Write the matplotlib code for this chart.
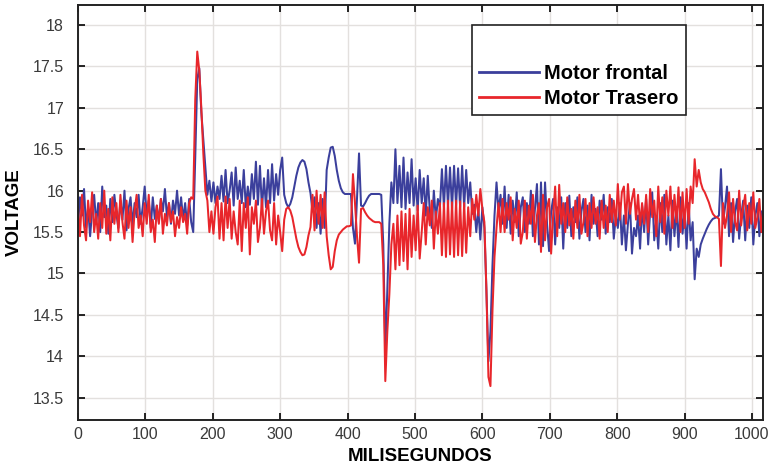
import matplotlib

matplotlib.use("Agg")

import matplotlib.pyplot as plt
import numpy as np
from matplotlib.lines import Line2D

# sample instants every 3 ms
ms = np.arange(0, 1021, 3)

motor_frontal = [
    15.58, 15.92, 15.70, 16.02, 15.55, 15.80, 15.45, 15.75, 15.95, 15.60,
    15.85, 15.50, 16.05, 15.68, 15.82, 15.48, 15.90, 15.62, 15.95, 15.72,
    15.55, 15.88, 15.65, 16.00, 15.52, 15.78, 15.92, 15.58, 15.85, 15.68,
    15.95, 15.60, 15.80, 16.05, 15.70, 15.88, 15.55, 15.92, 15.66, 15.82,
    15.62, 15.90, 15.75, 16.02, 15.68, 15.85, 15.60, 15.88, 15.72, 16.00,
    15.70, 15.92, 15.65, 15.85, 15.58, 15.90, 15.62, 15.50, 16.40, 17.35,
    17.48, 16.95, 16.62, 16.30, 15.95, 16.12, 15.87, 16.10, 15.85, 16.05,
    15.90, 16.18, 15.87, 16.25, 15.85, 16.00, 16.22, 15.82, 16.28, 15.90,
    16.12, 15.85, 16.25, 15.80, 16.05, 15.83, 16.20, 15.90, 16.35, 15.83,
    16.30, 15.78, 16.15, 15.80, 16.25, 15.85, 16.32, 15.88, 16.20, 15.95,
    16.25, 16.40, 15.95, 15.85, 15.80, 15.84, 15.92, 16.05, 16.18, 16.28,
    16.34, 16.37, 16.35, 16.26, 16.10, 15.97, 15.75, 15.92, 15.55, 15.85,
    15.48, 15.90, 15.55, 16.25, 16.40, 16.52, 16.53, 16.42, 16.25, 16.12,
    16.03, 15.98, 15.96, 15.96, 15.96, 15.96, 15.55, 15.36, 15.90, 16.45,
    15.82, 15.81, 15.85, 15.90, 15.94, 15.96, 15.96, 15.96, 15.96, 15.96,
    15.95, 15.35, 14.06, 14.80, 15.60, 16.10, 15.85, 16.50, 15.85, 16.30,
    15.80, 16.40, 15.78, 16.22, 15.85, 16.38, 15.82, 16.15, 15.76, 16.25,
    15.85, 16.15, 15.70, 16.18, 15.75, 15.55, 16.00, 15.65, 15.90, 15.80,
    16.26, 15.80, 16.30, 15.82, 16.28, 15.78, 16.30, 15.82, 16.27, 15.80,
    16.30, 15.80, 16.25, 15.85, 16.10, 15.72, 15.83, 15.50, 15.78, 15.41,
    15.80, 15.55, 14.80, 13.94, 14.30, 15.10, 15.70, 16.10, 15.75, 15.95,
    15.60, 16.05, 15.55, 15.95, 15.48, 15.88, 15.62, 15.98, 15.45, 15.80,
    15.92, 15.50, 15.85, 15.60, 16.00, 15.45, 15.78, 16.08, 15.35, 16.10,
    15.33, 16.10, 15.60, 15.27, 15.75, 15.90, 15.35, 15.80, 15.55, 15.92,
    15.30, 15.85, 15.55, 15.94, 15.45, 15.80, 15.62, 15.92, 15.42, 15.75,
    15.90, 15.50, 15.82, 15.40, 15.95, 15.60, 15.78, 15.45, 15.88, 15.65,
    15.95, 15.48, 15.80, 15.62, 15.90, 15.42, 15.70, 15.55, 15.85, 15.35,
    15.70, 15.28, 15.60, 15.85, 15.24, 15.55, 15.45, 15.70, 15.30, 15.82,
    15.50, 15.90, 15.35, 15.75, 15.98, 15.40, 15.65, 15.30, 15.85, 15.50,
    15.95, 15.35, 15.70, 15.28, 15.88, 15.45, 15.80, 15.32, 15.92, 15.48,
    15.75, 15.30, 15.85, 15.40, 15.62, 14.93, 15.30, 15.20, 15.35, 15.42,
    15.48, 15.54, 15.59, 15.63, 15.66, 15.67, 15.68, 15.70, 16.26, 15.60,
    15.80, 16.05, 15.45, 15.85, 15.38, 15.75, 15.90, 15.42, 15.70, 15.88,
    15.40, 15.82, 15.55, 15.92, 15.35, 15.70, 15.85, 15.45, 15.75, 15.50,
    15.62,
]

motor_trasero = [
    15.80, 15.45, 15.95, 15.58, 15.40, 15.88, 15.62, 15.98, 15.50, 15.72,
    15.42, 15.85, 15.55, 16.00, 15.48, 15.78, 15.40, 15.92, 15.60, 15.85,
    15.50, 15.95, 15.62, 15.42, 15.88, 15.55, 15.80, 15.38, 15.75, 15.95,
    15.55, 15.70, 15.45, 15.85, 15.60, 15.95, 15.50, 15.65, 15.38, 15.82,
    15.60, 15.90, 15.48, 15.72, 15.58, 15.85, 15.62, 15.75, 15.45, 15.68,
    15.55, 15.80, 15.62, 15.72, 15.48, 15.85, 15.92, 15.90, 17.10, 17.68,
    17.45, 17.00, 16.45, 16.00, 15.88, 15.50, 15.75, 15.48, 15.80, 15.93,
    15.42, 15.85, 15.40, 15.93, 15.55, 15.90, 15.42, 15.75, 15.50, 15.35,
    15.88, 15.27, 15.85, 15.55, 15.92, 15.23, 15.80, 15.60, 15.88, 15.38,
    15.55, 15.90, 15.48, 15.75, 15.88, 15.52, 15.40, 15.85, 15.35, 15.70,
    15.50, 15.27, 15.65, 15.78, 15.80, 15.76, 15.68, 15.55, 15.42, 15.32,
    15.26, 15.22, 15.23, 15.32, 15.46, 15.56, 15.95, 15.52, 16.00, 15.60,
    15.95, 15.55, 15.98, 15.45, 15.22, 15.05, 15.08, 15.27, 15.40, 15.47,
    15.50, 15.53, 15.55, 15.57, 15.57, 15.58, 16.20, 15.85, 15.45, 15.13,
    15.78, 15.79, 15.74, 15.70, 15.67, 15.65, 15.63, 15.62, 15.62, 15.62,
    15.60, 15.10, 13.70, 14.30, 14.75, 15.35, 15.60, 15.05, 15.70, 15.10,
    15.75, 15.15, 15.72, 15.05, 15.78, 15.20, 15.70, 15.28, 15.82, 15.18,
    15.50, 15.85, 15.35, 15.80, 15.58, 15.88, 15.30, 15.75, 15.48, 15.85,
    15.22, 15.85, 15.20, 15.88, 15.23, 15.86, 15.20, 15.88, 15.22, 15.87,
    15.21, 15.85, 15.25, 15.80, 15.45, 15.90, 15.65, 15.95, 15.70, 16.02,
    15.78, 15.62, 14.80, 13.75, 13.64, 14.55, 15.20, 15.55, 15.85, 15.50,
    15.90, 15.50, 15.85, 15.65, 15.92, 15.40, 15.78, 15.55, 15.88, 15.36,
    15.50, 15.88, 15.42, 15.82, 15.60, 15.95, 15.38, 15.70, 15.85, 15.26,
    15.95, 15.40, 15.80, 15.90, 15.24, 15.70, 16.05, 15.45, 16.07, 15.60,
    15.85, 15.50, 15.92, 15.58, 15.78, 15.42, 15.88, 15.55, 15.95, 15.48,
    15.62, 15.90, 15.45, 15.85, 15.55, 15.92, 15.60, 15.80, 15.42, 15.88,
    15.55, 15.82, 15.50, 15.95, 15.62, 15.88, 15.58, 16.08, 15.65, 15.98,
    16.05, 15.60, 16.08, 15.72, 15.90, 16.02, 15.65, 15.95, 15.58, 15.85,
    15.60, 15.95, 15.50, 16.02, 15.68, 15.88, 15.45, 16.05, 15.62, 15.92,
    15.48, 16.00, 15.70, 16.05, 15.55, 15.95, 15.62, 16.04, 15.50, 15.98,
    15.55, 16.02, 15.60, 16.05, 15.85, 16.38, 16.05, 16.25, 16.10, 16.02,
    15.98, 15.92, 15.86, 15.78, 15.72, 15.69, 15.68, 15.66, 15.09, 15.85,
    15.55, 15.70, 15.98, 15.50, 15.90, 15.62, 15.52, 16.00, 15.58, 15.80,
    15.95, 15.52, 15.85, 15.60, 15.98, 15.55, 15.68, 15.90, 15.50, 15.80,
    15.65,
]

x_ticks = list(range(0, 1001, 100))
y_ticks = [13.5, 14, 14.5, 15, 15.5, 16, 16.5, 17, 17.5, 18]

BLUE = "#3b3f9c"
RED = "#e8262b"
FONT = "Liberation Sans"

fig = plt.figure(figsize=(7.72, 4.73), dpi=100)
ax = fig.add_axes([0.101, 0.112, 0.887, 0.877])

ax.plot(ms, motor_frontal, color=BLUE, linewidth=1.45, label="Motor frontal")
ax.plot(ms, motor_trasero, color=RED, linewidth=1.45, label="Motor Trasero")

ax.set_xlim(0, 1016)
ax.set_ylim(13.23, 18.24)
ax.set_xticks(x_ticks)
ax.set_yticks(y_ticks)
ax.set_yticklabels([f"{v:g}" for v in y_ticks])
ax.grid(True, color="#e3e0de", linewidth=1.0)
ax.set_axisbelow(True)

ax.tick_params(direction="in", length=5, width=1.2, top=True, right=True,
               labelsize=11.5, labelcolor="#3a3a3a")
ax.tick_params(axis="x", pad=5)
ax.tick_params(axis="y", pad=10)
for lbl in ax.get_xticklabels() + ax.get_yticklabels():
    lbl.set_family(FONT)
for spine in ax.spines.values():
    spine.set_linewidth(1.4)
    spine.set_color("#222222")

ax.set_xlabel("MILISEGUNDOS", fontsize=13.5, fontweight="bold",
              family=FONT, labelpad=4)
ax.set_ylabel("VOLTAGE", fontsize=13.5, fontweight="bold",
              family=FONT, labelpad=7)

handles = [
    Line2D([], [], color=BLUE, linewidth=2.0),
    Line2D([], [], color=RED, linewidth=2.0),
]
leg = ax.legend(handles, ["Motor frontal", "Motor Trasero"],
                loc="upper left", bbox_to_anchor=(0.575, 0.952),
                borderaxespad=0, title=" ", title_fontsize=19,
                fancybox=False, framealpha=1.0, edgecolor="#222222",
                handlelength=3.0, handletextpad=0.25, borderpad=0.35,
                labelspacing=0.3,
                prop={"family": FONT, "weight": "bold", "size": 14.5})
leg.get_frame().set_linewidth(1.2)

fig.savefig("out.png", dpi=100)
